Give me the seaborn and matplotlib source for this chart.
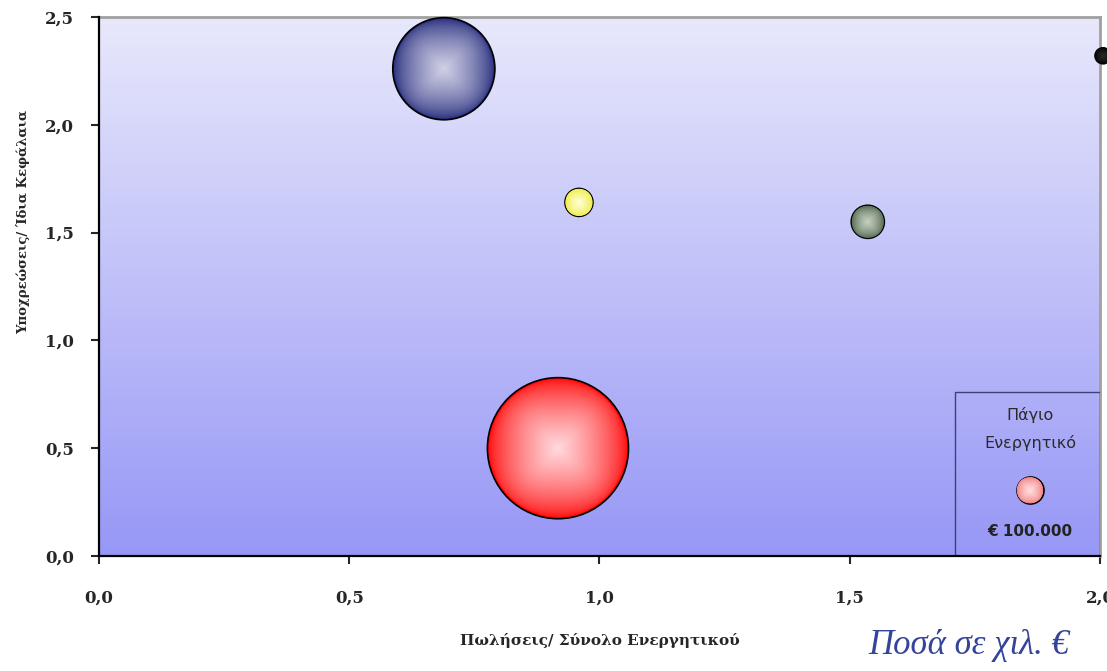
import numpy as np
import pandas as pd
import matplotlib
matplotlib.use("Agg")
import matplotlib.pyplot as plt
from matplotlib.colors import to_rgb
from matplotlib.patches import Rectangle
from matplotlib.path import Path
import seaborn as sns

# ------------------------------------------------
# Data
# ------------------------------------------------
companies = ["A", "B", "C", "D", "E"]
sales_to_assets = [0.689, 0.959, 1.536, 0.917, 2.006]
liab_to_equity = [2.26, 1.64, 1.55, 0.50, 2.32]
fixed_assets = [1430000, 107000, 150000, 2730000, 35000]
base_colors = ["#262C7C", "#EDEB3A", "#4B634C", "#FF0A0A", "#000000"]
light_colors = ["#D2D2E8", "#FFFFD6", "#C8D2C0", "#FFDCE0", "#2A2A2A"]

legend_value = 100000
legend_label = "€ 100.000"
legend_title = "Πάγιο\nΕνεργητικό"
x_ticks = [0.0, 0.5, 1.0, 1.5, 2.0]
y_ticks = [0.0, 0.5, 1.0, 1.5, 2.0, 2.5]
x_label = "Πωλήσεις/ Σύνολο Ενεργητικού"
y_label = "Υποχρεώσεις/ Ίδια Κεφάλαια"
note = "Ποσά σε χιλ. €"

df = pd.DataFrame({"company": companies, "x": sales_to_assets,
                   "y": liab_to_equity, "value": fixed_assets})

# ------------------------------------------------
# Figure setup
# ------------------------------------------------
sns.set_style("white")
plt.rcParams["font.family"] = ["DejaVu Serif"]

fig = plt.figure(figsize=(11.07, 6.71), dpi=100)
ax = fig.add_axes([0.0894, 0.1714, 0.9043, 0.8033])

# background gradient (light lavender on top, stronger blue-violet at the bottom)
top_c = np.array(to_rgb("#E8E8FC"))
bot_c = np.array(to_rgb("#9797F6"))
t = np.linspace(0, 1, 256)[:, None]
grad = (top_c * (1 - t) + bot_c * t)[:, None, :]
ax.imshow(grad, extent=[0, 1, 0, 1], transform=ax.transAxes, aspect="auto", zorder=0)

# bubble area proportional to value; legend bubble is ~27 px wide
ref_area = (27 * 0.72) ** 2


def blend(c1, c2, w):
    a, b = np.array(to_rgb(c1)), np.array(to_rgb(c2))
    return tuple(a * (1 - w) + b * w)


def squircle(n):
    # superellipse marker: n=2 is a circle, larger n gets squarer
    th = np.linspace(0, 2 * np.pi, 120)
    c, s = np.cos(th), np.sin(th)
    xs = np.sign(c) * np.abs(c) ** (2 / n)
    ys = np.sign(s) * np.abs(s) ** (2 / n)
    return Path(np.column_stack([xs, ys]), closed=True)


def draw_bubbles(data, base, light, transform=None, zbase=3):
    areas = data["value"] / legend_value * ref_area
    fracs = np.linspace(1.0, 0.03, 36)
    for i, frac in enumerate(fracs):
        w = (1 - frac) ** 0.7
        n = 2 + 2.6 * (1 - frac) ** 0.8
        # keep the rounded-square corners inside the outer circle
        while frac * 2 ** (0.5 - 1 / n) > 0.97 and n > 2:
            n -= 0.05
        pal = {c: blend(b, l, w) for c, b, l in zip(data["company"], base, light)}
        sz = {c: a * frac ** 2 for c, a in zip(data["company"], areas)}
        kw = dict(clip_on=False, zorder=zbase + i * 0.01)
        if transform is not None:
            kw["transform"] = transform
        sns.scatterplot(data=data, x="x", y="y", hue="company", palette=pal,
                        size="company", sizes=sz, marker=squircle(n) if i else "o",
                        legend=False,
                        edgecolor="black" if i == 0 else "none",
                        linewidth=1.2 if i == 0 else 0, ax=ax, **kw)


draw_bubbles(df, base_colors, light_colors)

# legend box (bottom right corner)
ax.add_patch(Rectangle((0.855, 0.0), 0.145, 0.304, transform=ax.transAxes,
                       facecolor="none", edgecolor="#3E3E78", linewidth=1.0, zorder=5))
ax.text(0.930, 0.236, legend_title, transform=ax.transAxes, ha="center", va="center",
        fontsize=11.5, family=["DejaVu Sans"], color="#2A2A2A",
        linespacing=1.95, zorder=6)
ax.text(0.930, 0.045, legend_label, transform=ax.transAxes, ha="center", va="center",
        fontsize=11, fontweight="bold", family=["DejaVu Sans"],
        color="#222222", zorder=6)
leg_df = pd.DataFrame({"company": ["L"], "x": [0.930], "y": [0.122], "value": [legend_value]})
draw_bubbles(leg_df, ["#F07878"], ["#FFE2E2"], transform=ax.transAxes, zbase=7)

# ------------------------------------------------
# Axes styling
# ------------------------------------------------
ax.set_xlim(0, 2.0)
ax.set_ylim(0, 2.5)
ax.set_xticks(x_ticks)
ax.set_yticks(y_ticks)
ax.set_xticklabels([f"{v:.1f}".replace(".", ",") for v in x_ticks])
ax.set_yticklabels([f"{v:.1f}".replace(".", ",") for v in y_ticks])
ax.tick_params(axis="x", direction="out", length=6, width=1.5, pad=18,
               labelsize=12, bottom=True)
ax.tick_params(axis="y", direction="out", length=6, width=1.5, pad=12,
               labelsize=12, left=True)
for lbl in ax.get_xticklabels() + ax.get_yticklabels():
    lbl.set_fontweight("bold")

for side in ["left", "bottom"]:
    ax.spines[side].set_color("black")
    ax.spines[side].set_linewidth(1.6)
    ax.spines[side].set_zorder(10)
for side in ["top", "right"]:
    ax.spines[side].set_color("#A0A0A0")
    ax.spines[side].set_linewidth(2.0)

ax.set_xlabel(x_label, fontsize=11, fontweight="bold")
ax.set_ylabel(y_label, fontsize=9.5, fontweight="bold")
ax.xaxis.set_label_coords(0.5, -0.143)
ax.yaxis.set_label_coords(-0.069, 0.62)

fig.text(0.875, 0.038, note, ha="center", va="center", fontsize=25,
         style="italic", family=["Liberation Serif"], color="#34449A")

fig.savefig("out.png", dpi=100)
